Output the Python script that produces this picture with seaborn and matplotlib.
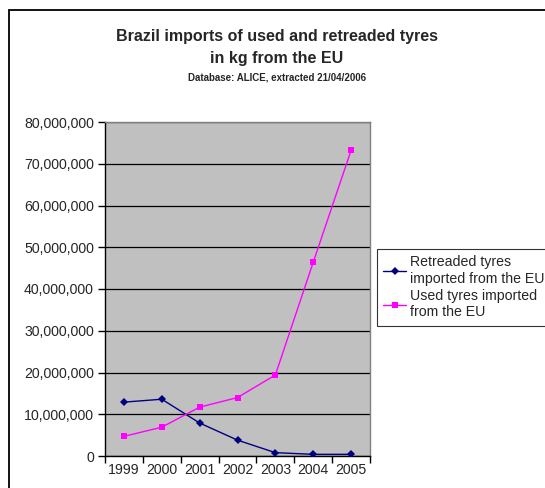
import pandas as pd
import seaborn as sns
import matplotlib.pyplot as plt
from matplotlib.patches import Rectangle
from matplotlib.ticker import FuncFormatter

# Values (kg)
YEARS = ["1999", "2000", "2001", "2002", "2003", "2004", "2005"]
RETREADED = [12900000, 13600000, 7900000, 3800000, 800000, 400000, 400000]
USED = [4700000, 6900000, 11700000, 14000000, 19400000, 46400000, 73200000]
LABEL_RETREADED = "Retreaded tyres\nimported from the EU"
LABEL_USED = "Used tyres imported\nfrom the EU"


def build_frame():
    """Long-format table for seaborn."""
    pos = list(range(len(YEARS)))
    a = pd.DataFrame({"pos": pos, "kg": RETREADED, "series": LABEL_RETREADED})
    b = pd.DataFrame({"pos": pos, "kg": USED, "series": LABEL_USED})
    return pd.concat([a, b], ignore_index=True)


def plot_chart(df):
    sns.set_style("white")
    plt.rcParams["font.family"] = ["Liberation Sans", "DejaVu Sans"]

    fig = plt.figure(figsize=(5.45, 4.88), dpi=100)
    W, H = 545, 488
    ax = fig.add_axes([105 / W, 1 - 456 / H, 265 / W, (456 - 122) / H])
    ax.set_facecolor("#C0C0C0")

    # outer chart frame
    fig.patches.append(Rectangle((9 / W, -0.2), 2.0, 1.2 - 10 / H,
                                 transform=fig.transFigure, fill=False,
                                 edgecolor="black", linewidth=1.3))

    sns.lineplot(data=df, x="pos", y="kg", hue="series", style="series",
                 palette={LABEL_RETREADED: "#000080", LABEL_USED: "#FF00FF"},
                 markers={LABEL_RETREADED: "D", LABEL_USED: "s"},
                 dashes=False, markersize=4.5, markeredgewidth=0,
                 linewidth=1.0, ax=ax, zorder=3)

    ax.set_xlim(-0.5, len(YEARS) - 0.5)
    ax.set_ylim(0, 80000000)
    ax.set_yticks(range(0, 80000001, 10000000))
    ax.yaxis.set_major_formatter(FuncFormatter(lambda v, p: f"{int(v):,}"))
    ax.yaxis.grid(True, color="black", linewidth=0.9)
    ax.set_axisbelow(True)

    ax.set_xticks([i - 0.5 for i in range(len(YEARS) + 1)])
    ax.set_xticklabels([])
    ax.set_xticks(range(len(YEARS)), minor=True)
    ax.set_xticklabels(YEARS, minor=True)
    ax.tick_params(axis="x", which="major", direction="out", length=5,
                   width=1, color="black", bottom=True)
    ax.tick_params(axis="x", which="minor", length=0, labelsize=10.2, pad=5)
    ax.tick_params(axis="y", direction="out", length=5, width=1,
                   color="black", labelsize=10.2, pad=3, left=True)

    ax.set_xlabel("")
    ax.set_ylabel("")
    for side in ("left", "bottom"):
        ax.spines[side].set_color("black")
        ax.spines[side].set_linewidth(1.0)
    for side in ("top", "right"):
        ax.spines[side].set_color("#808080")
        ax.spines[side].set_linewidth(1.0)

    fig.text(277 / W, 1 - 37 / H, "Brazil imports of used and retreaded tyres",
             ha="center", va="center", fontsize=11.5, fontweight="bold")
    fig.text(277 / W, 1 - 59 / H, "in kg from the EU",
             ha="center", va="center", fontsize=11.5, fontweight="bold")
    fig.text(277 / W, 1 - 78 / H, "Database: ALICE, extracted 21/04/2006",
             ha="center", va="center", fontsize=7, fontweight="bold")

    leg = ax.legend(loc="upper left", bbox_to_anchor=(377 / W, 1 - 249 / H),
                    bbox_transform=fig.transFigure, frameon=True,
                    fontsize=10.2, handlelength=1.6, handletextpad=0.25,
                    borderpad=0.45, labelspacing=0.25, fancybox=False,
                    borderaxespad=0)
    leg.get_frame().set_edgecolor("black")
    leg.get_frame().set_linewidth(0.8)

    fig.savefig("out.png", dpi=100)


if __name__ == "__main__":
    data = build_frame()
    plot_chart(data)
